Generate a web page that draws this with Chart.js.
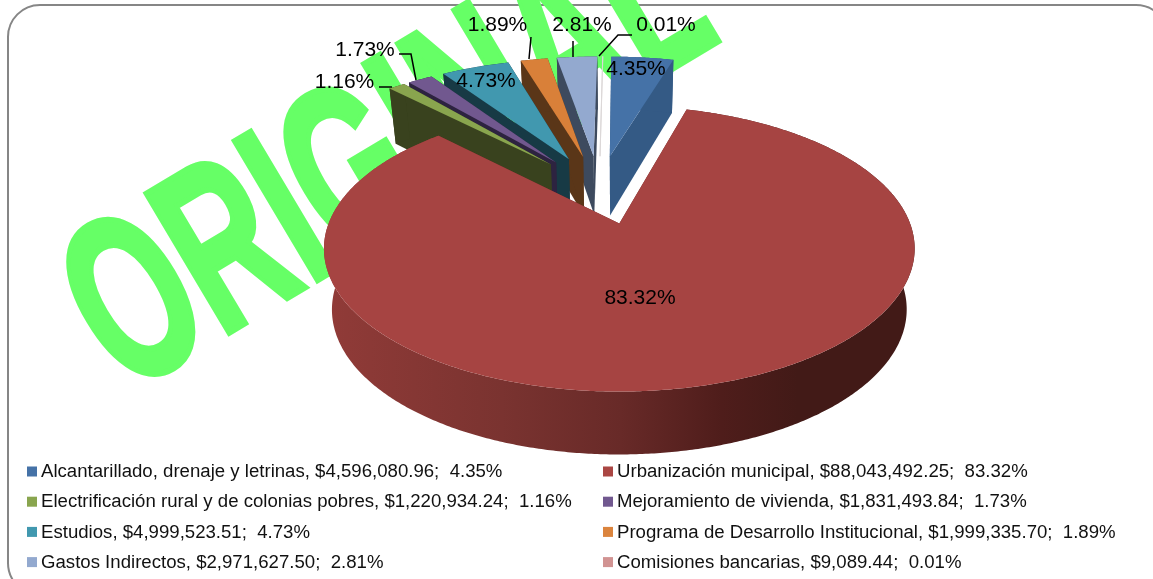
<!DOCTYPE html>
<html><head><meta charset="utf-8">
<script src="https://cdn.jsdelivr.net/npm/chart.js@4"></script>
<style>html,body{margin:0;padding:0;background:#fff;overflow:hidden}canvas{display:block}</style>
</head><body><canvas id="c" width="1153" height="579"></canvas>
<script>
const categories = ["Alcantarillado, drenaje y letrinas","Urbanización municipal","Electrificación rural y de colonias pobres","Mejoramiento de vivienda","Estudios","Programa de Desarrollo Institucional","Gastos Indirectos","Comisiones bancarias"];
const amounts = [4596080.96,88043492.25,1220934.24,1831493.84,4999523.51,1999335.70,2971627.50,9089.44];
const percents = [4.35,83.32,1.16,1.73,4.73,1.89,2.81,0.01];
const topColors = ["#4572A7","#A64442","#89A54E","#71588F","#4198AF","#D98039","#93A9CF","#DCD8D8"];
const wallColors = ["#345A85","#6B2927","#39421E","#2D2340","#173A45","#5A3618","#3D4A5E","#DCD8D8"];
const legendColors = ["#4572A7","#AA4643","#89A54E","#71588F","#4198AF","#DB843D","#93A9CF","#D19392"];
const paintOrder = [7,6,5,4,3,2,0,1];

// Layout of the tilted pie
const VIEW = {x0:620.5, y0:225, sx:291.3, sy:139, k:0.176, cx:-0.077, cy:0.272, explode:0.27, taper:0.027, axis:620};
const labelPos = [[636,68],[640,297],[344.5,81],[365,49],[486,80],[497.5,24],[582,24],[666,24]];
const leaders = {2:[[379,87],[392,87]],3:[[399,54],[411,54],[416,80]],5:[[531,37],[529,59]],6:[[573,41],[573,57]],7:[[632,35],[618,35],[599,56]]};

function project(X,Y){
  const w = 1 + VIEW.k*Y;
  return {x:VIEW.x0 + VIEW.sx*X/w, y:VIEW.y0 - VIEW.sy*Y/w, w};
}
function depth(w){
  return w < 1.096 ? 59 + (1.096-w)*14.5 : 59 - 34.5*(w-1.096);
}
function lower(p){
  return {x:p.x + (VIEW.axis-p.x)*VIEW.taper, y:p.y + depth(p.w)};
}
function path(ctx,pts){
  ctx.beginPath();
  pts.forEach((p,i)=> i ? ctx.lineTo(p.x,p.y) : ctx.moveTo(p.x,p.y));
  ctx.closePath();
}
function money(v){
  return "$" + v.toLocaleString("en-US",{minimumFractionDigits:2,maximumFractionDigits:2});
}

const pie3d = {
  id:"pie3d",
  beforeDraw(chart){
    const ctx = chart.ctx;
    ctx.save();
    ctx.fillStyle = "#fff";
    ctx.fillRect(0,0,chart.width,chart.height);
    ctx.strokeStyle = "#868686";
    ctx.lineWidth = 2;
    ctx.beginPath();
    ctx.roundRect(8,5,1160,590,32);
    ctx.stroke();
    ctx.restore();
    // watermark
    ctx.save();
    ctx.translate(228,337);
    ctx.rotate(-30.8*Math.PI/180);
    ctx.translate(-118,0);
    ctx.scale(0.606,1);
    ctx.font = "bold 235px 'Liberation Sans'";
    ctx.fillStyle = "#66FF66";
    ctx.strokeStyle = "#66FF66";
    ctx.lineWidth = 6;
    ctx.lineJoin = "miter";
    ctx.textBaseline = "alphabetic";
    ctx.fillText("ORIGINAL",0,-3);
    ctx.strokeText("ORIGINAL",0,-3);
    ctx.restore();
  },
  beforeDatasetsDraw(chart){
    const ctx = chart.ctx;
    const arcs = chart.getDatasetMeta(0).data;
    ctx.save();
    paintOrder.forEach(i=>{
      const a = arcs[i];
      const s = a.startAngle + Math.PI/2, e = a.endAngle + Math.PI/2, m = (s+e)/2;
      const tx = (i === 1 ? VIEW.cx + 0.006 : VIEW.cx) + VIEW.explode*Math.sin(m), ty = VIEW.cy + VIEW.explode*Math.cos(m);
      const tip = project(tx,ty);
      const n = Math.max(2,Math.ceil((e-s)/(Math.PI/360)));
      const rim = [];
      for(let j=0;j<=n;j++){
        const t = s + (e-s)*j/n;
        rim.push(project(tx + Math.sin(t), ty + Math.cos(t)));
      }
      const last = rim[rim.length-1];
      if(i !== 7){
        // radial walls
        ctx.fillStyle = wallColors[i];
        path(ctx,[tip,rim[0],lower(rim[0]),lower(tip)]); ctx.fill();
        path(ctx,[tip,last,lower(last),lower(tip)]); ctx.fill();
        // curved wall
        if(i === 1){
          const g = ctx.createLinearGradient(325,0,916,0);
          g.addColorStop(0,"#913B38");
          g.addColorStop(0.3,"#7A3330");
          g.addColorStop(0.5,"#682A28");
          g.addColorStop(0.67,"#4F1D1B");
          g.addColorStop(0.8,"#421A17");
          g.addColorStop(1,"#421A17");
          ctx.fillStyle = g;
        }
        path(ctx,rim.concat(rim.map(lower).reverse())); ctx.fill();
      }
      // top face
      ctx.fillStyle = topColors[i];
      path(ctx,[tip].concat(rim)); ctx.fill();
      if(i === 7){
        ctx.strokeStyle = topColors[i];
        ctx.lineWidth = 1;
        ctx.stroke();
      }
    });
    ctx.restore();
    return false;
  },
  afterDraw(chart){
    const ctx = chart.ctx;
    ctx.save();
    // leader lines
    ctx.strokeStyle = "#000";
    ctx.lineWidth = 1.5;
    Object.values(leaders).forEach(pts=>{
      ctx.beginPath();
      pts.forEach((p,i)=> i ? ctx.lineTo(p[0],p[1]) : ctx.moveTo(p[0],p[1]));
      ctx.stroke();
    });
    // percentage labels
    ctx.fillStyle = "#000";
    ctx.font = "21px 'Liberation Sans'";
    ctx.textAlign = "center";
    ctx.textBaseline = "middle";
    percents.forEach((v,i)=> ctx.fillText(v.toFixed(2)+"%",labelPos[i][0],labelPos[i][1]+1));
    // legend
    ctx.font = "18.63px 'Liberation Sans'";
    ctx.textAlign = "left";
    categories.forEach((c,i)=>{
      const col = i%2, row = Math.floor(i/2);
      const x = col ? 603 : 27, y = 471.5 + row*30.2;
      ctx.fillStyle = legendColors[i];
      ctx.fillRect(x,y-5,10,10);
      ctx.fillStyle = "#111";
      ctx.fillText(c+", "+money(amounts[i])+";  "+percents[i].toFixed(2)+"%",x+14,y+0.5);
    });
    ctx.restore();
  }
};

new Chart(document.getElementById("c"),{
  type:"pie",
  data:{labels:categories,datasets:[{data:amounts,backgroundColor:legendColors}]},
  options:{
    responsive:false,
    animation:false,
    rotation:0,
    plugins:{legend:{display:false},tooltip:{enabled:false}}
  },
  plugins:[pie3d]
});
</script>
</body></html>
